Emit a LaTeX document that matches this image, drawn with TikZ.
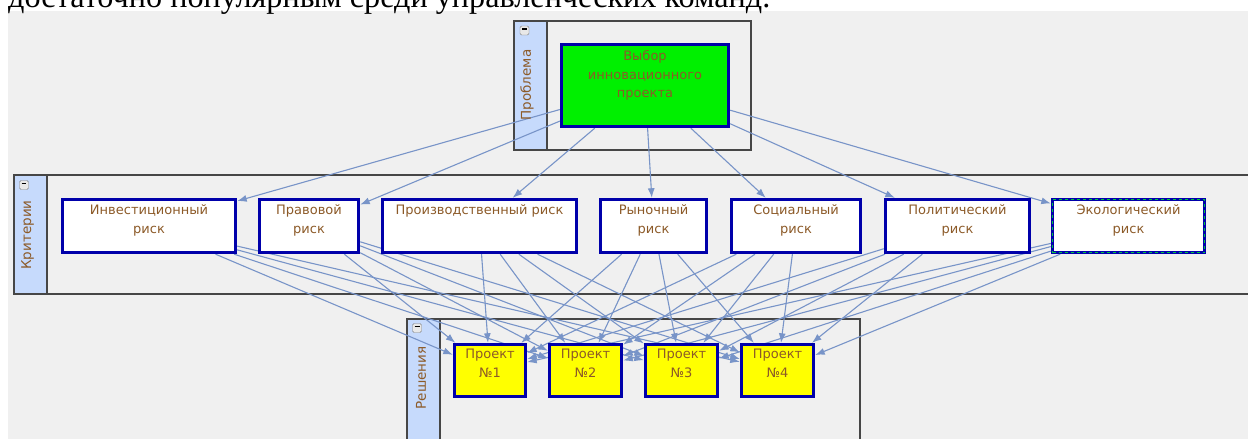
\documentclass[tikz,border=0pt]{standalone}
\usepackage{graphicx}
\usepackage{fontspec}
\setmainfont{DejaVu Sans}
\newfontfamily\topserif{Liberation Serif}
\usetikzlibrary{arrows.meta}
\pgfdeclarelayer{bg}
\pgfdeclarelayer{edges}
\pgfsetlayers{bg,edges,main}
\definecolor{bgray}{RGB}{240,240,240}
\definecolor{hdr}{RGB}{198,218,252}
\definecolor{frm}{RGB}{70,70,70}
\definecolor{nblue}{RGB}{0,0,170}
\definecolor{ntext}{RGB}{140,90,40}
\definecolor{edgec}{RGB}{120,148,200}
\definecolor{ngreen}{RGB}{0,240,0}
\definecolor{nyellow}{RGB}{255,255,0}
\definecolor{dgreen}{RGB}{0,200,60}
\begin{document}
\begin{tikzpicture}[x=1pt,y=-1pt,
  font=\fontsize{13}{16}\selectfont,
  nbox/.style={draw=nblue, line width=3.4pt, inner sep=0pt, minimum height=53pt, fill=white},
  pbox/.style={draw=nblue, line width=3.4pt, inner sep=0pt, minimum height=52pt, fill=nyellow},
  txt/.style={anchor=base, inner sep=0pt, text=ntext},
  ttl/.style={rotate=90, inner sep=0pt, text=ntext, font=\fontsize{13.5}{16}\selectfont},
  icon/.style={draw=gray, fill=gray!18, rounded corners=1.5pt, minimum width=9pt, minimum height=9pt, inner sep=0pt},
  edge/.style={draw=edgec, line width=1.1pt, -{Latex[length=9.5pt,width=7pt]}},
  grp/.style={draw=frm, line width=1.3pt},
  hdrs/.style={fill=hdr, draw=frm, line width=1.3pt}
]
\useasboundingbox (0,0) rectangle (1248,439);
\node[anchor=base west, inner sep=0pt] (toptext) at (8,8) {\resizebox{762pt}{!}{\topserif достаточно популярным среди управленческих команд.}};

\begin{pgfonlayer}{bg}
\fill[white] (0,0) rectangle (1248,439);
\fill[bgray] (8,11) rectangle (1248,439);
% Problem group
\draw[grp] (514,21) rectangle (751,150);
\draw[hdrs] (514,21) rectangle (547,150);
% Criteria group
\draw[grp] (14,175) rectangle (1252,294);
\draw[hdrs] (14,175) rectangle (47,294);
% Solutions group
\draw[grp] (407,319) rectangle (860,445);
\draw[hdrs] (407,319) rectangle (440,445);
\end{pgfonlayer}

% group headers
\node[icon] (i1) at (524.5,30.5) {\rule[2.6pt]{5pt}{1.5pt}};
\node[ttl] (t1) at (527,85) {Проблема};
\node[icon] (i2) at (24,185) {\rule[2.6pt]{5pt}{1.5pt}};
\node[ttl] (t2) at (27.5,235) {Критерии};
\node[icon] (i3) at (417,328) {\rule[2.6pt]{5pt}{1.5pt}};
\node[ttl] (t3) at (421,378) {Решения};

% Problem node
\node[draw=nblue, line width=3.4pt, fill=ngreen, inner sep=0pt, minimum width=167pt, minimum height=82pt] (pr) at (645,85.5) {};
\node[txt] (pr1) at (645,60.5) {Выбор};
\node[txt] (pr2) at (645,79) {инновационного};
\node[txt] (pr3) at (645,97.5) {проекта};

% Criteria nodes
\node[nbox, minimum width=173pt] (c1) at (149,226) {};
\node[nbox, minimum width=99pt] (c2) at (309,226) {};
\node[nbox, minimum width=194pt] (c3) at (479.5,226) {};
\node[nbox, minimum width=106pt] (c4) at (653.5,226) {};
\node[nbox, minimum width=129pt] (c5) at (796,226) {};
\node[nbox, minimum width=144pt] (c6) at (957.5,226) {};
\node[nbox, minimum width=152pt, postaction={draw=dgreen, line width=1.7pt, dash pattern=on 3pt off 3pt}] (c7) at (1128.5,226) {};

\node[txt] (c1a) at (149,214) {Инвестиционный};
\node[txt] (c1b) at (149,233) {риск};
\node[txt] (c2a) at (309,214) {Правовой};
\node[txt] (c2b) at (309,233) {риск};
\node[txt] (c3a) at (479.5,214) {Производственный риск};
\node[txt] (c4a) at (653.5,214) {Рыночный};
\node[txt] (c4b) at (653.5,233) {риск};
\node[txt] (c5a) at (796,214) {Социальный};
\node[txt] (c5b) at (796,233) {риск};
\node[txt] (c6a) at (957.5,214) {Политический};
\node[txt] (c6b) at (957.5,233) {риск};
\node[txt] (c7a) at (1128.5,214) {Экологический};
\node[txt] (c7b) at (1128.5,233) {риск};

% Project nodes
\node[pbox, minimum width=71pt] (p1) at (490,370.5) {};
\node[pbox, minimum width=72pt] (p2) at (585.5,370.5) {};
\node[pbox, minimum width=72pt] (p3) at (681.5,370.5) {};
\node[pbox, minimum width=72pt] (p4) at (777.5,370.5) {};
\node[txt] (p1a) at (490,358.3) {Проект};
\node[txt] (p1b) at (490,377.3) {№1};
\node[txt] (p2a) at (585.5,358.3) {Проект};
\node[txt] (p2b) at (585.5,377.3) {№2};
\node[txt] (p3a) at (681.5,358.3) {Проект};
\node[txt] (p3b) at (681.5,377.3) {№3};
\node[txt] (p4a) at (777.5,358.3) {Проект};
\node[txt] (p4b) at (777.5,377.3) {№4};

\begin{pgfonlayer}{edges}
\foreach \c in {c1,c2,c3,c4,c5,c6,c7} {
  \draw[edge] (pr) -- (\c);
  \foreach \p in {p1,p2,p3,p4} {
    \draw[edge] (\c) -- (\p);
  }
}
\end{pgfonlayer}
\end{tikzpicture}
\end{document}
